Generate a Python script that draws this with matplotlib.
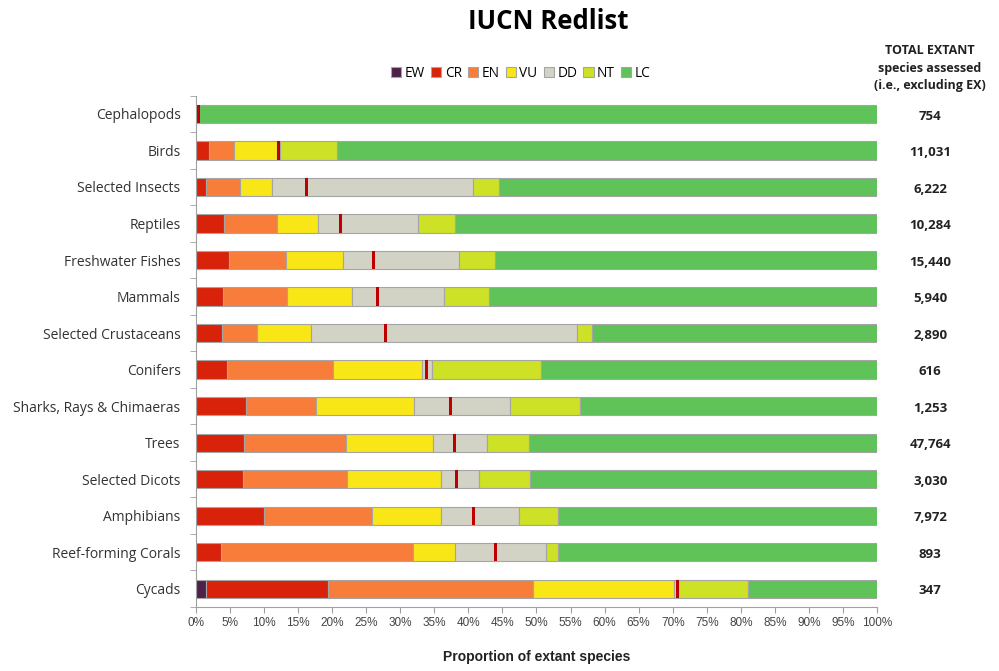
import numpy as np
import matplotlib
matplotlib.use('Agg')
import matplotlib.pyplot as plt
from matplotlib.ticker import FixedLocator, PercentFormatter

# ── Data (percent of extant species) ─────────────────────────────────
groups = ['Cephalopods', 'Birds', 'Selected Insects', 'Reptiles',
          'Freshwater Fishes', 'Mammals', 'Selected Crustaceans', 'Conifers',
          'Sharks, Rays & Chimaeras', 'Trees', 'Selected Dicots',
          'Amphibians', 'Reef-forming Corals', 'Cycads']

ew = [0.0, 0.0, 0.0, 0.0, 0.0, 0.0, 0.0, 0.0, 0.0, 0.0, 0.0, 0.0, 0.0, 1.45]
cr = [0.4, 2.0, 1.5, 4.2, 4.9, 4.0, 3.9, 4.65, 7.35, 7.1, 6.95, 9.95, 3.7, 18.0]
en = [0.0, 3.6, 5.0, 7.65, 8.3, 9.4, 5.15, 15.45, 10.25, 14.95, 15.25, 15.95, 28.2, 30.1]
vu = [0.0, 6.25, 4.75, 6.05, 8.4, 9.5, 7.85, 13.1, 14.4, 12.75, 13.8, 10.1, 6.2, 20.6]
dd = [0.0, 0.5, 29.45, 14.7, 17.1, 13.5, 39.0, 1.4, 14.1, 7.9, 5.5, 11.4, 13.3, 0.6]
nt = [0.0, 8.35, 3.8, 5.5, 5.2, 6.6, 2.3, 16.1, 10.3, 6.2, 7.6, 5.8, 1.8, 10.3]
lc = [99.6, 79.3, 55.5, 61.9, 56.1, 57.0, 41.8, 49.3, 43.6, 51.1, 50.9, 46.8, 46.8, 18.95]

# best estimate of threatened proportion (red tick inside each bar)
best_est = [0.4, 12.1, 16.3, 21.2, 26.1, 26.6, 27.9, 33.9, 37.35, 38.0, 38.3,
            40.8, 44.0, 70.7]

totals = ['754', '11,031', '6,222', '10,284', '15,440', '5,940', '2,890',
          '616', '1,253', '47,764', '3,030', '7,972', '893', '347']

cat_names = ['EW', 'CR', 'EN', 'VU', 'DD', 'NT', 'LC']
cat_colors = ['#4e2149', '#d8220a', '#f97d3a', '#f8e616', '#d2d2c5',
              '#cde126', '#5fc35a']

# ── Plot ──────────────────────────────────────────────────────────────
fig = plt.figure(figsize=(9.99, 6.71), dpi=100)
ax = fig.add_axes([0.196, 0.0954, 0.682, 0.762])

ypos = np.arange(len(groups))
left = np.zeros(len(groups))
for name, vals, col in zip(cat_names, [ew, cr, en, vu, dd, nt, lc], cat_colors):
    vals = np.array(vals)
    ax.barh(ypos, vals, left=left, height=0.5, color=col,
            edgecolor='#a5a5a5', linewidth=0.8, label=name)
    left += vals

# red best-estimate markers
ax.barh(ypos, [0.45] * len(groups), left=np.array(best_est) - 0.225,
        height=0.5, color='#c00000', linewidth=0)

ax.set_ylim(len(groups) - 0.5, -0.5)
ax.set_xlim(0, 100)
ax.set_yticks(ypos)
ax.set_yticklabels(groups, fontsize=10, family='Open Sans', color='#333333')
ax.tick_params(axis='y', length=0, pad=11)
ax.yaxis.set_minor_locator(FixedLocator(np.arange(-0.5, len(groups), 1)))
ax.tick_params(axis='y', which='minor', length=4, color='#a0a0a0')

ax.set_xticks(np.arange(0, 101, 5))
ax.xaxis.set_major_formatter(PercentFormatter(decimals=0))
ax.tick_params(axis='x', length=4, color='#a0a0a0', labelsize=8.5,
               labelcolor='#444444')
for lbl in ax.get_xticklabels():
    lbl.set_family('Liberation Sans')

for s in ['top', 'right']:
    ax.spines[s].set_visible(False)
for s in ['left', 'bottom']:
    ax.spines[s].set_color('#a0a0a0')

ax.set_xlabel('Proportion of extant species', fontsize=10, fontweight='bold',
              family='Liberation Sans', labelpad=15, color='#222222')

# totals column
for y, t in zip(ypos, totals):
    ax.text(1.078, y + 0.06, t, transform=ax.get_yaxis_transform(),
            ha='center', va='center', fontsize=9.5, fontweight='bold',
            family='Open Sans', color='#222222')
fig.text(0.931, 0.898, 'TOTAL EXTANT\nspecies assessed\n(i.e., excluding EX)',
         ha='center', va='center', fontsize=9, fontweight='bold',
         family='Open Sans', color='#222222', linespacing=1.45)

ax.legend(loc='center', bbox_to_anchor=(0.477, 1.043), ncol=7, frameon=False,
          prop={'family': 'Open Sans', 'size': 9.8}, handlelength=0.75,
          handleheight=0.75, handletextpad=0.25, columnspacing=0.45)

fig.suptitle('IUCN Redlist', x=0.549, y=0.988, fontsize=18.5, fontweight='bold',
             family='Open Sans')

plt.savefig('out.png', dpi=100)
